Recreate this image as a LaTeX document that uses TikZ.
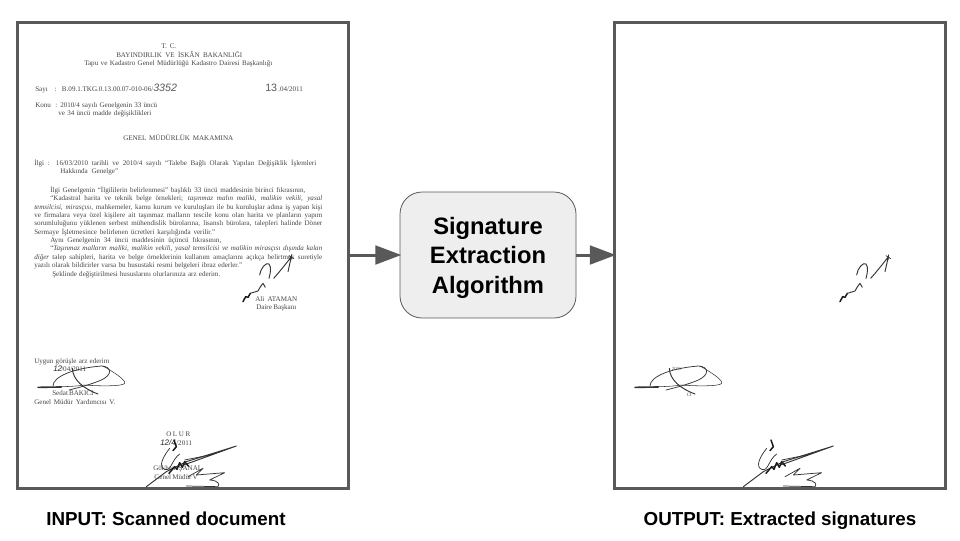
\documentclass[tikz,border=0pt]{standalone}
\usepackage{fontspec}
\setmainfont{Liberation Serif}
\newfontfamily\capfont{Liberation Sans}
\usetikzlibrary{arrows.meta}
\definecolor{framec}{HTML}{595959}
\definecolor{boxfill}{HTML}{EEEEEE}
\tikzset{
  frameb/.style={draw=framec,line width=2.25pt,fill=white,minimum width=248.25pt,minimum height=349.5pt,inner sep=0pt,outer sep=0pt},
  algobox/.style={draw=framec,line width=0.6pt,fill=boxfill,rounded corners=16.5pt,minimum width=132pt,minimum height=94.5pt,inner sep=0pt,outer sep=0pt,align=center,font=\capfont\bfseries\fontsize{17.8}{22}\selectfont},
  flow/.style={draw=framec,line width=2.25pt,-{Triangle[length=19.5pt,width=14pt]},shorten >=-1pt},
  caption/.style={anchor=base,font=\capfont\bfseries\fontsize{14.1}{16}\selectfont,inner sep=0pt},
  docl/.style={anchor=base west,inner sep=0pt,text=black!72,font=\fontsize{5.3}{6}\selectfont},
  hand/.style={anchor=base west,inner sep=0pt,text=black!85,font=\capfont\itshape\fontsize{6}{7}\selectfont},
  sigl/.style={draw=black!80,line width=0.55pt,line cap=round,line join=round},
  sigt/.style={draw=black!90,line width=1.1pt,line cap=round,line join=round},
  frag/.style={inner sep=0pt,text=black!70,font=\fontsize{3.6}{4}\selectfont}
}
\newcommand{\dl}[5]{\node[docl] (#1) at (#2,#3+2) {\makebox[\dimexpr #4pt*3/4\relax][s]{#5}};}
\newcommand{\sigone}{%
  \draw[sigt] (660,185) -- (668,170) -- (675,172) -- (682,160);
  \draw[sigl,line width=0.7pt] (682,160) -- (705,153) .. controls (710,145) and (714,135) .. (720,130) -- (727,142);
  \draw[sigl,line width=0.7pt] (710,105) .. controls (712,85) and (730,65) .. (738,72) .. controls (746,82) and (742,100) .. (738,115);
  \draw[sigl,line width=0.7pt] (752,115) .. controls (770,95) and (790,70) .. (805,50) -- (795,95);
  \draw[sigl] (798,47) -- (812,56) (806,44) -- (804,60);
}
\newcommand{\sigtwo}{%
  \draw[sigl,line width=1.2pt] (45,442) -- (115,441);
  \draw[sigl] (90,438) .. controls (90,410) and (150,385) .. (235,378) .. controls (268,380) and (268,405) .. (235,420) .. controls (205,433) and (170,442) .. (138,450);
  \draw[sigl,line width=0.7pt] (148,385) .. controls (150,420) and (180,445) .. (225,462);
  \draw[sigl,line width=0.4pt] (240,378) .. controls (270,395) and (310,420) .. (305,430) .. controls (300,440) and (220,438) .. (185,435) .. controls (150,440) and (120,440) .. (100,440);
}
\newcommand{\sigthree}{%
  \draw[sigt] (453,600) -- (460,620) -- (450,632);
  \draw[sigl] (440,625) .. controls (420,650) and (405,680) .. (425,688) .. controls (445,695) and (445,660) .. (470,642);
  \draw[sigl,line width=0.7pt] (370,740) -- (430,695) -- (490,665) -- (640,618) -- (510,665) -- (480,675);
  \draw[sigl] (485,660) -- (555,646);
  \draw[sigt] (438,700) -- (455,680) -- (462,688) -- (470,668) -- (478,682) -- (485,665) -- (496,678);
  \draw[sigl] (495,710) -- (540,685) -- (520,705) -- (605,698) -- (560,720) .. controls (590,722) and (590,735) .. (585,740) -- (490,738);
}
\begin{document}
\begin{tikzpicture}[x=0.75pt,y=-0.75pt]
\useasboundingbox (0,0) rectangle (960,540);
\fill[white] (0,0) rectangle (960,540);
\node[frameb] (infr) at (182.5,255) {};
\node[frameb] (outfr) at (780,255) {};
\node[algobox] (algo) at (488,255) {\rule{0pt}{17pt}Signature\\Extraction\\Algorithm};
\draw[flow] (infr.east) -- (algo.west);
\draw[flow] (algo.east) -- (outfr.west);
\node[caption] (capin) at (166,525) {INPUT: Scanned document};
\node[caption] (capout) at (780,525) {OUTPUT: Extracted signatures};
% document text
\dl{a1}{161}{46}{15}{T. C.}
\dl{a2}{116}{55}{126}{BAYINDIRLIK VE İSKÂN BAKANLIĞI}
\dl{a3}{84}{63}{188}{Tapu ve Kadastro Genel Müdürlüğü Kadastro Dairesi Başkanlığı}
\dl{a4}{35}{89}{118}{Sayı \ : B.09.1.TKG.0.13.00.07-010-06/}
\node[hand,font=\capfont\itshape\fontsize{8}{9}\selectfont,text=black!65] (a4h) at (153,91) {3352};
\node[hand,font=\capfont\fontsize{8}{9}\selectfont,text=black!65] (a5h) at (265,91) {13};
\dl{a5}{278}{89}{26}{.04/2011}
\dl{a6}{35}{105}{122}{Konu \ : 2010/4 sayılı Genelgenin 33 üncü}
\dl{a7}{58}{113}{93}{ve 34 üncü madde değişiklikleri}
\dl{a8}{123}{138}{110}{GENEL MÜDÜRLÜK MAKAMINA}
\dl{a9}{34}{163}{282}{İlgi : 16/03/2010 tarihli ve 2010/4 sayılı “Talebe Bağlı Olarak Yapılan Değişiklik İşlemleri}
\dl{a10}{60}{171}{58}{Hakkında Genelge”}
\dl{b1}{50}{190}{255}{İlgi Genelgenin “İlgililerin belirlenmesi” başlıklı 33 üncü maddesinin birinci fıkrasının,}
\dl{b2}{50}{198}{272}{“Kadastral harita ve teknik belge örnekleri; \textit{taşınmaz malın maliki, malikin vekili, yasal}}
\dl{b3}{34}{207}{288}{\textit{temsilcisi, mirasçısı,} mahkemeler, kamu kurum ve kuruluşları ile bu kuruluşlar adına iş yapan kişi}
\dl{b4}{34}{215}{288}{ve firmalara veya özel kişilere ait taşınmaz malların tescile konu olan harita ve planların yapım}
\dl{b5}{34}{223}{288}{sorumluluğunu yüklenen serbest mühendislik bürolarına, lisanslı bürolara, talepleri halinde Döner}
\dl{b6}{34}{232}{181}{Sermaye İşletmesince belirlenen ücretleri karşılığında verilir.”}
\dl{b7}{50}{240}{171}{Aynı Genelgenin 34 üncü maddesinin üçüncü fıkrasının,}
\dl{b8}{50}{248}{272}{“\textit{Taşınmaz malların maliki, malikin vekili, yasal temsilcisi ve malikin mirasçısı dışında kalan}}
\dl{b9}{34}{257}{288}{\textit{diğer} talep sahipleri, harita ve belge örneklerinin kullanım amaçlarını açıkça belirtmek suretiyle}
\dl{b10}{34}{265}{208}{yazılı olarak bildirirler varsa bu husustaki resmi belgeleri ibraz ederler.”}
\dl{b11}{52}{274}{168}{Şeklinde değiştirilmesi hususlarını olurlarınıza arz ederim.}
\dl{c1}{255}{299}{42}{Ali ATAMAN}
\dl{c2}{256}{307}{40}{Daire Başkanı}
\dl{d1}{34}{361}{75}{Uygun görüşle arz ederim}
\node[hand] (d2h) at (53,371) {12};
\dl{d2}{61}{369}{26}{/04/2011}
\dl{d3}{52}{393}{41}{Sedat BAKICI}
\dl{d4}{34}{402}{81}{Genel Müdür Yardımcısı V.}
\dl{e1}{166}{434}{24}{O L U R}
\node[hand] (e2h) at (160,445) {12/4};
\dl{e2}{176}{443}{19}{/2011}
\dl{e3}{153}{468}{49}{Gökhan ŞANAL}
\dl{e4}{154}{477}{43}{Genel Müdür V}
% signatures, input
\begin{scope}[shift={(23,240)},x=0.25pt,y=-0.25pt]
\sigone
\sigtwo
\sigthree
\end{scope}
% signatures, output
\begin{scope}[shift={(620,240)},x=0.25pt,y=-0.25pt]
\sigone
\sigtwo
\sigthree
\node[frag] (f1) at (170,386) {2011};
\node[frag] (f2) at (208,464) {CI};
\end{scope}
\end{tikzpicture}
\end{document}
